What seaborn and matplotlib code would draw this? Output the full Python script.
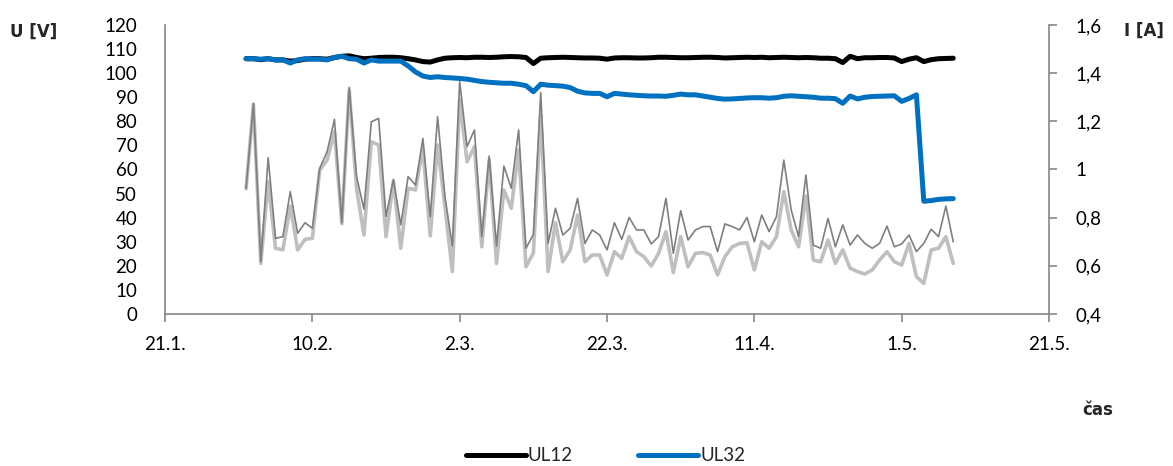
import numpy as np
import pandas as pd
import matplotlib
matplotlib.use("Agg")
import matplotlib.pyplot as plt
import matplotlib.dates as mdates
from matplotlib.ticker import FuncFormatter, MultipleLocator
import seaborn as sns

# daily readings, 1.2. - 8.5.
start_day = "2019-02-01"
n_days = 97

# voltages [V]
ul12 = [106, 106, 105.6, 106, 105.5, 105.5, 105, 105.2, 105.8, 106, 106, 105.8, 106.5, 107, 107.2, 106.5,
        106, 106.2, 106.5, 106.6, 106.6, 106.4, 106, 105.5, 104.8, 104.6, 105.5, 106.2, 106.4, 106.5, 106.4, 106.6,
        106.6, 106.5, 106.6, 106.8, 106.9, 106.8, 106.5, 104, 106.2, 106.4, 106.5, 106.6, 106.5, 106.4, 106.3, 106.3,
        106.2, 105.8, 106.3, 106.4, 106.4, 106.3, 106.3, 106.4, 106.6, 106.6, 106.5, 106.4, 106.4, 106.5, 106.6, 106.6,
        106.5, 106.3, 106.4, 106.5, 106.6, 106.5, 106.6, 106.4, 106.5, 106.6, 106.5, 106.4, 106.5, 106.4, 106.2, 106.2,
        106, 104.4, 107, 106, 106.4, 106.4, 106.5, 106.5, 106.3, 104.8, 105.8, 106.4, 104.8, 105.6, 106, 106.1, 106.2]
ul32 = [106, 106, 105.8, 106, 105.5, 105.5, 104.2, 105.5, 106, 105.8, 105.8, 105.5, 106.5, 107, 106, 105.8,
        104.2, 105.5, 105, 105, 105, 105, 103, 100.5, 98.8, 98.2, 98.5, 98.2, 98, 97.8, 97.5, 97,
        96.5, 96.2, 96, 95.8, 95.8, 95.4, 94.8, 92.3, 95.4, 95, 94.8, 94.6, 94, 92.5, 91.8, 91.6,
        91.6, 90.2, 91.6, 91.3, 91, 90.8, 90.6, 90.5, 90.5, 90.4, 90.8, 91.3, 91, 91, 90.5, 90,
        89.5, 89.2, 89.3, 89.5, 89.7, 89.8, 89.8, 89.6, 89.8, 90.4, 90.6, 90.4, 90.2, 90, 89.6, 89.6,
        89.4, 87.5, 90.5, 89.3, 90, 90.3, 90.4, 90.5, 90.6, 88.3, 89.5, 91, 46.8, 47.1, 47.6, 47.8, 47.9]

# currents [A]
i_dark = [0.922, 1.275, 0.617, 1.049, 0.714, 0.721, 0.908, 0.735, 0.779, 0.756, 1.005, 1.074, 1.208, 0.779, 1.341, 0.97,
          0.835, 1.198, 1.212, 0.805, 0.959, 0.77, 0.97, 0.936, 1.129, 0.804, 1.219, 0.887, 0.682, 1.365, 1.095, 1.164,
          0.721, 1.056, 0.682, 1.014, 0.922, 1.164, 0.673, 0.73, 1.319, 0.693, 0.839, 0.728, 0.756, 0.88, 0.693, 0.749,
          0.728, 0.666, 0.779, 0.71, 0.801, 0.749, 0.749, 0.691, 0.721, 0.88, 0.652, 0.829, 0.707, 0.749, 0.763, 0.763,
          0.659, 0.774, 0.763, 0.749, 0.801, 0.70, 0.811, 0.742, 0.804, 1.039, 0.832, 0.721, 0.977, 0.686, 0.673, 0.797,
          0.679, 0.77, 0.686, 0.728, 0.693, 0.673, 0.693, 0.765, 0.679, 0.691, 0.728, 0.659, 0.693, 0.752, 0.721, 0.848, 0.70]
i_light = [0.92, 1.27, 0.61, 0.949, 0.673, 0.666, 0.848, 0.666, 0.71, 0.714, 0.998, 1.039, 1.157, 0.775, 1.33, 0.92,
           0.728, 1.115, 1.102, 0.721, 0.95, 0.673, 0.922, 0.915, 1.088, 0.724, 1.102, 0.846, 0.576, 1.289, 1.032, 1.095,
           0.679, 1.039, 0.61, 0.915, 0.839, 1.081, 0.596, 0.653, 1.226, 0.576, 0.779, 0.617, 0.666, 0.811, 0.617, 0.645,
           0.645, 0.562, 0.659, 0.631, 0.721, 0.659, 0.638, 0.599, 0.652, 0.742, 0.572, 0.721, 0.596, 0.652, 0.655, 0.645,
           0.562, 0.638, 0.679, 0.693, 0.696, 0.583, 0.70, 0.673, 0.721, 0.908, 0.749, 0.679, 0.89, 0.624, 0.617, 0.707,
           0.61, 0.666, 0.59, 0.576, 0.566, 0.583, 0.624, 0.659, 0.617, 0.603, 0.693, 0.555, 0.527, 0.666, 0.673, 0.721, 0.61]

x_ticks = ["2019-01-21", "2019-02-10", "2019-03-02", "2019-03-22", "2019-04-11", "2019-05-01", "2019-05-21"]

dates = pd.date_range(start_day, periods=n_days, freq="D")
df = pd.DataFrame({"cas": dates, "UL12": ul12, "UL32": ul32, "I1": i_dark, "I2": i_light})

sns.set_style("white")
plt.rcParams["font.family"] = ["Lato", "DejaVu Sans"]

fig = plt.figure(figsize=(11.73, 4.66), dpi=100)
ax = fig.add_axes([0.1407, 0.3262, 0.7536, 0.6202])
ax2 = ax.twinx()
ax.set_zorder(ax2.get_zorder() + 1)
ax.patch.set_visible(False)

sns.lineplot(ax=ax2, data=df, x="cas", y="I2", color="#bfbfbf", lw=2.6, legend=False)
sns.lineplot(ax=ax2, data=df, x="cas", y="I1", color="#7f7f7f", lw=1.2, legend=False)
sns.lineplot(ax=ax, data=df, x="cas", y="UL12", color="#000000", lw=3.6, label="UL12")
sns.lineplot(ax=ax, data=df, x="cas", y="UL32", color="#0070c0", lw=3.6, label="UL32")
for ln in ax.lines + ax2.lines:
    ln.set_solid_joinstyle("round")
    ln.set_solid_capstyle("round")

tick_dates = pd.to_datetime(x_ticks)
ax.set_xlim(tick_dates[0], tick_dates[-1])
ax.set_xticks(tick_dates)
ax.xaxis.set_major_formatter(FuncFormatter(lambda v, p: "{}.{}.".format(mdates.num2date(v).day, mdates.num2date(v).month)))
ax.set_ylim(0, 120)
ax.yaxis.set_major_locator(MultipleLocator(10))
ax2.set_ylim(0.4, 1.6)
ax2.yaxis.set_major_locator(MultipleLocator(0.2))
ax2.yaxis.set_major_formatter(FuncFormatter(lambda v, p: "{:g}".format(round(v, 1)).replace(".", ",")))

ax.set_xlabel("")
ax.set_ylabel("")
ax2.set_ylabel("")
grey = "#868686"
for a in (ax, ax2):
    for s in a.spines.values():
        s.set_color(grey)
        s.set_linewidth(1.2)
    a.spines["top"].set_visible(False)
ax.spines["right"].set_visible(False)
ax2.spines["left"].set_visible(False)
ax2.spines["bottom"].set_visible(False)

ax.tick_params(axis="y", length=0, pad=20, labelsize=13.5, labelcolor="#000000")
ax.tick_params(axis="x", length=6, width=1.2, color=grey, direction="out", pad=10, labelsize=13.5, labelcolor="#000000")
ax.xaxis.set_ticks_position("bottom")
ax2.tick_params(axis="y", length=6, width=1.2, color=grey, direction="out", pad=13, labelsize=13.5, labelcolor="#000000")
ax2.yaxis.set_ticks_position("right")

ax.get_legend().remove()
bold = dict(fontsize=12, fontweight="bold", va="center", ha="left", family=["DejaVu Sans"])
fig.text(0.0085, 0.931, "U [V]", **bold)
fig.text(0.958, 0.935, "I [A]", **bold)
fig.text(0.923, 0.12, "čas", **bold)

handles, labels = ax.get_legend_handles_labels()
fig.legend(handles, labels, loc="center", bbox_to_anchor=(0.516, 0.022), ncol=2, frameon=False,
           fontsize=13.5, handlelength=3.2, handletextpad=0.1, columnspacing=3.5)

fig.savefig("out.png", dpi=100)
